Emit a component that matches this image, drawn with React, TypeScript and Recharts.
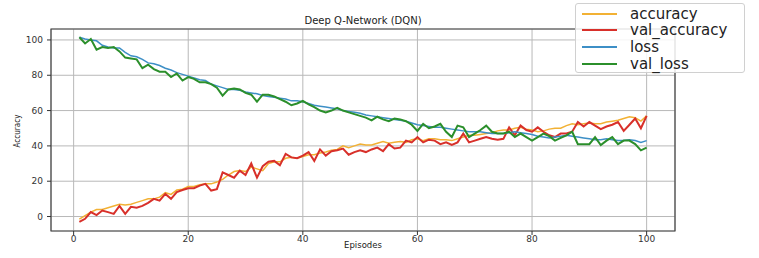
import {
  CartesianGrid,
  Line,
  LineChart,
  ReferenceArea,
  XAxis,
  YAxis,
} from "recharts";

// episodes 1..100
const EPISODES = Array.from({ length: 100 }, (_, i) => i + 1);

const ACCURACY = [
  -1.5, 0.5, 2.5, 4, 4, 5, 6, 7, 6.5, 7,
  8, 9, 10, 10, 11, 13.5, 12.5, 15, 15.5, 17,
  17, 18, 18.5, 18.5, 19.5, 21, 23.5, 25.5, 26, 25.5,
  28, 27, 26, 30, 31, 31, 33, 33.5, 33, 34,
  35, 35, 36, 36.5, 37.5, 38, 40, 39, 40, 41,
  40.5, 40.5, 41.5, 42.5, 41.5, 42, 42.5, 42, 43.5, 44,
  43, 44, 44, 43.5, 43.5, 43, 44, 45, 46, 46,
  46.5, 47, 47.5, 48.5, 49, 49, 50, 50.5, 49.5, 49,
  48, 48.5, 49.5, 50, 50, 51.5, 52.5, 52, 52.5, 53,
  52.5, 52.5, 53.5, 54, 54.5, 55.5, 56.5, 56, 54, 57,
];

const VAL_ACCURACY = [
  -3, -1.3, 2.5, 0.8, 3.4, 2.5, 1.5, 6, 1.5, 5.5,
  5, 6, 7.7, 10, 9, 12.8, 10, 13.8, 15, 16,
  16, 17.5, 18.5, 14.7, 15.5, 25, 23.5, 22, 26, 23.5,
  30, 22, 28.5, 31, 31.5, 29, 35.5, 33.5, 33, 34.5,
  36.5, 31.5, 38, 34.5, 37, 37.5, 38.5, 35, 36.5, 37.5,
  36.5, 38, 39, 37, 41, 38.5, 39, 43, 42, 45,
  42, 43.5, 43, 41, 42, 40.5, 42, 47, 42, 43,
  44, 45, 44, 43.5, 44, 50.5, 46, 51.5, 49, 48,
  50.5, 48, 46, 45, 47, 47, 48, 53.5, 51, 53.5,
  51.5, 49.5, 51, 52, 53.5, 48.5, 52, 55.5, 50, 57,
];

const LOSS = [
  101.5, 100.5, 100, 99.5, 97, 96, 95.5, 95.5, 93, 91,
  90.5, 89, 87, 86.5, 85.5, 84, 83, 81.5, 80.5, 79.5,
  78.5, 77.5, 77, 75, 74, 73, 72, 72, 71.5, 70.5,
  70, 69.5, 68.5, 68, 67.5, 67, 66.5, 65.5, 65.5, 65,
  64, 63, 62.5, 62, 61.5, 61, 60, 59.5, 59, 58.5,
  57.5, 57, 56.5, 56, 55.5, 55, 54.5, 54, 53, 52,
  51.5, 51, 50.5, 50.5, 50, 49.5, 49, 48.5, 48, 48,
  48, 47.5, 47, 47, 47, 47.5, 48, 47.5, 47, 46.5,
  45.5, 45, 44.5, 45, 45.5, 46, 45.5, 45, 44.5, 44,
  43.5, 43.5, 44, 43.5, 43, 43, 43.5, 43, 42, 43,
];

const VAL_LOSS = [
  101.5, 98, 100.5, 94.5, 96, 95.5, 96, 93.5, 90, 89.5,
  89, 84, 86, 83.5, 82, 82, 79, 81, 77, 79,
  78, 76, 76, 75, 73, 68.5, 72, 72.5, 72, 70,
  69, 65, 69, 69, 68, 66.5, 65, 63, 64, 65.5,
  63.5, 62, 60, 59, 60, 61.5, 60, 59, 58, 57,
  56, 54.5, 56.5, 55, 54, 55.5, 55, 54, 52, 48.5,
  52.5, 50, 51, 52.5, 48, 45, 51.5, 50.5, 45, 47,
  49, 51.5, 48, 47, 47, 48, 45, 47, 45, 43,
  45, 47, 45.5, 43, 44.5, 46, 48, 41, 41, 41,
  45, 40.5, 43, 45, 41, 43, 43, 41, 37.5, 39,
];

const X_TICKS = [0, 20, 40, 60, 80, 100];
const Y_TICKS = [0, 20, 40, 60, 80, 100];
const X_DOMAIN: [number, number] = [-3.95, 104.95];
const Y_DOMAIN: [number, number] = [-8.2, 106.2];

const SERIES = [
  { key: "accuracy", color: "#f2b134", width: 1.5 },
  { key: "val_accuracy", color: "#d8302a", width: 2 },
  { key: "loss", color: "#3d8fc6", width: 1.5 },
  { key: "val_loss", color: "#2b8f2b", width: 2 },
];

const rows = EPISODES.map((episode, i) => ({
  episode,
  accuracy: ACCURACY[i],
  val_accuracy: VAL_ACCURACY[i],
  loss: LOSS[i],
  val_loss: VAL_LOSS[i],
}));

const FONT = "'DejaVu Sans', sans-serif";
const tickStyle = { fontSize: 9, fill: "#333", fontFamily: FONT };

export default function App() {
  return (
    <div
      style={{
        position: "absolute",
        left: 0,
        top: 0,
        width: 759,
        height: 258,
        background: "#fff",
        fontFamily: FONT,
      }}
    >
      <LineChart
        width={759}
        height={258}
        data={rows}
        margin={{ top: 29, right: 84, bottom: 0, left: 11 }}
      >
        <CartesianGrid stroke="#b8b8b8" strokeWidth={1} />
        <XAxis
          dataKey="episode"
          type="number"
          domain={X_DOMAIN}
          ticks={X_TICKS}
          allowDataOverflow
          height={27}
          axisLine={false}
          tickLine={{ stroke: "#333" }}
          tickSize={4}
          tickMargin={1}
          tick={tickStyle}
        />
        <YAxis
          type="number"
          domain={Y_DOMAIN}
          ticks={Y_TICKS}
          allowDataOverflow
          width={40}
          axisLine={false}
          tickLine={{ stroke: "#333" }}
          tickSize={4}
          tickMargin={4}
          tick={tickStyle}
        />
        {SERIES.map((s) => (
          <Line
            key={s.key}
            type="linear"
            dataKey={s.key}
            stroke={s.color}
            strokeWidth={s.width}
            dot={false}
            isAnimationActive={false}
          />
        ))}
        <ReferenceArea
          x1={X_DOMAIN[0]}
          x2={X_DOMAIN[1]}
          y1={Y_DOMAIN[0]}
          y2={Y_DOMAIN[1]}
          fill="none"
          stroke="#444"
          strokeWidth={1.2}
        />
      </LineChart>

      <div
        style={{
          position: "absolute",
          left: 51,
          width: 624,
          top: 15,
          textAlign: "center",
          fontSize: 10,
          color: "#222",
        }}
      >
        Deep Q-Network (DQN)
      </div>
      <div
        style={{
          position: "absolute",
          left: 51,
          width: 624,
          top: 240,
          textAlign: "center",
          fontSize: 8.5,
          color: "#222",
        }}
      >
        Episodes
      </div>
      <div
        style={{
          position: "absolute",
          left: 17,
          top: 131,
          transform: "translate(-50%, -50%) rotate(-90deg)",
          fontSize: 8,
          fontFamily: "'Liberation Sans Narrow', 'DejaVu Sans Condensed', sans-serif",
          color: "#222",
          whiteSpace: "nowrap",
        }}
      >
        Accuracy
      </div>

      <div
        style={{
          position: "absolute",
          left: 575,
          top: 3,
          width: 168,
          height: 68,
          border: "1px solid #d0d0d0",
          borderRadius: 3,
          background: "rgba(255,255,255,0.85)",
        }}
      >
        {SERIES.map((s, i) => (
          <div
            key={s.key}
            style={{
              position: "absolute",
              left: 6,
              top: 1 + i * 16.7,
              height: 17,
              display: "flex",
              alignItems: "center",
              fontSize: 15,
              color: "#222",
              whiteSpace: "nowrap",
            }}
          >
            <span
              style={{
                display: "inline-block",
                width: 35,
                height: 2,
                background: s.color,
                marginRight: 13,
              }}
            />
            {s.key}
          </div>
        ))}
      </div>
    </div>
  );
}
